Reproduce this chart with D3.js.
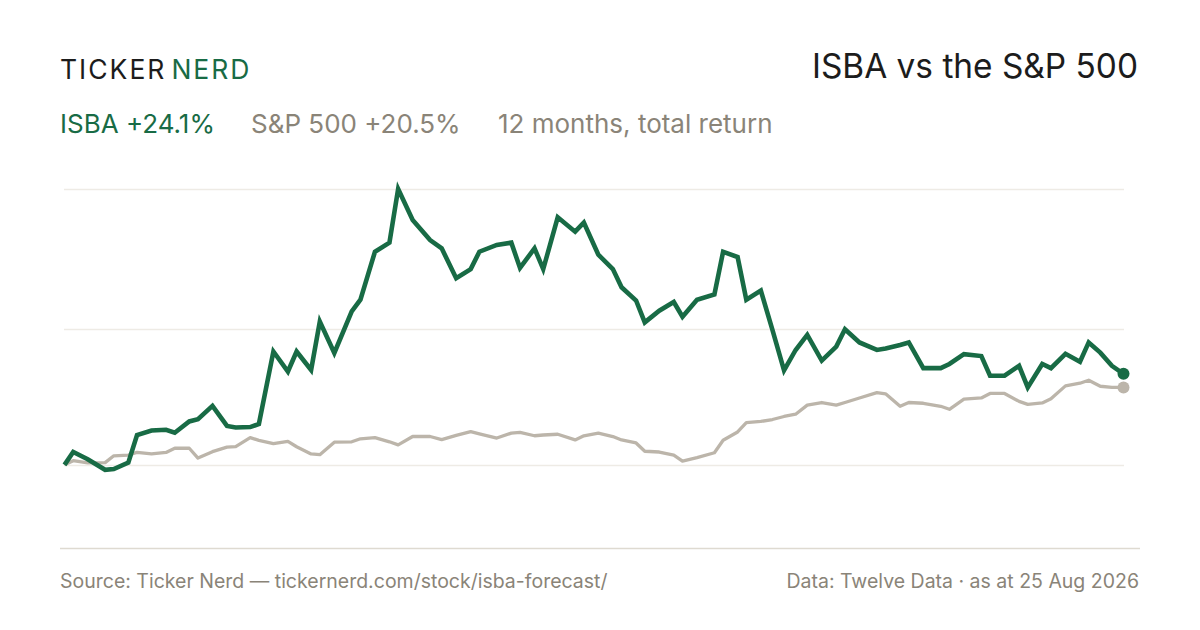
<!DOCTYPE html>
<html>
<head>
<meta charset="utf-8">
<script src="https://cdn.jsdelivr.net/npm/d3@7"></script>
<style>
  html, body { margin: 0; padding: 0; background: #ffffff; }
  svg { display: block; font-family: Inter, "Noto Sans", sans-serif; }
</style>
</head>
<body>
<svg id="chart" width="1200" height="630"></svg>
<script>
// ---- Data ----
// Day offsets from the start of the 12-month window (25 Aug 2025 -> 25 Aug 2026)
const days = [0,3,8,14,17,22,25,30,35,38,43,46,51,56,59,64,67,72,77,80,85,88,93,99,102,107,112,115,120,126,130,135,140,143,149,154,157,162,165,170,176,179,184,189,192,197,200,205,210,213,218,224,227,232,235,240,244,248,252,256,261,266,269,274,280,283,288,291,296,302,305,310,316,319,324,329,332,337,340,345,350,353,357,361,365];
// ISBA cumulative total return, %
const isba = [0,3.4,1.5,-1.3,-1.1,0.6,7.9,9.1,9.3,8.5,11.5,12.1,15.6,10.3,9.9,10.0,10.8,30.0,24.7,30.0,25.1,37.9,29.6,40.6,43.7,56.4,58.8,73.0,64.8,59.5,57.3,49.4,51.8,56.4,58.2,58.8,52.1,57.3,51.8,65.5,61.7,64.1,55.6,51.8,47.0,43.5,37.7,40.8,43.1,39.2,43.7,45.1,56.4,55.0,43.7,46.1,35.7,25.0,30.4,34.4,27.6,31.3,35.9,32.4,30.4,30.8,31.7,32.4,25.6,25.6,26.7,29.3,28.8,23.6,23.6,26.2,20.5,26.7,25.6,29.4,27.3,32.4,29.7,26.2,24.1];
// S&P 500 cumulative total return, %
const spx = [0,1.1,0.5,0.6,2.4,2.6,3.3,2.9,3.3,4.4,4.4,1.8,3.5,4.7,4.8,7.2,6.5,5.6,6.2,4.8,2.9,2.7,6.0,6.1,6.9,7.2,6.1,5.3,7.5,7.5,6.7,7.8,8.8,8.2,7.1,8.4,8.6,7.7,7.9,8.1,6.6,7.7,8.4,7.5,6.6,5.8,3.6,3.4,2.6,1.0,1.9,3.2,6.5,8.7,11.2,11.5,12.0,12.8,13.4,15.8,16.5,15.8,16.5,17.7,19.1,18.8,15.5,16.5,16.3,15.5,14.7,17.4,17.7,18.9,18.9,16.8,16.0,16.4,17.5,20.9,21.6,22.4,20.8,20.5,20.5];
// Horizontal guide values, %
const gridValues = [0, 36, 73];

const brand = ["TICKER", "NERD"];
const title = "ISBA vs the S&P 500";
const legendItems = ["ISBA +24.1%", "S&P 500 +20.5%", "12 months, total return"];
const sourceText = "Source: Ticker Nerd \u2014 tickernerd.com/stock/isba-forecast/";
const dataText = "Data: Twelve Data \u00b7 as at 25 Aug 2026";

// ---- Styles ----
const GREEN = "#186b45";
const GREY_LINE = "#bcb5aa";
const GREY_TEXT = "#8a8478";
const DARK = "#1c1c1c";

const svg = d3.select("#chart");

const x = d3.scaleLinear().domain([0, 365]).range([64.5, 1123.5]);
const y = d3.scaleLinear().domain([-22, 73]).range([548, 189]);

// gridlines
svg.append("g").selectAll("line").data(gridValues).join("line")
  .attr("x1", 64).attr("x2", 1124)
  .attr("y1", d => Math.round(y(d)) + 0.5).attr("y2", d => Math.round(y(d)) + 0.5)
  .attr("stroke", "#eeebe5").attr("stroke-width", 1.5);

// footer rule
svg.append("line").attr("x1", 60).attr("x2", 1140).attr("y1", 548.5).attr("y2", 548.5)
  .attr("stroke", "#dedad1").attr("stroke-width", 1.5);

const line = d3.line().x((d, i) => x(days[i])).y(d => y(d));

svg.append("path").datum(spx).attr("d", line)
  .attr("fill", "none").attr("stroke", GREY_LINE).attr("stroke-width", 3.3)
  .attr("stroke-linejoin", "round");
svg.append("path").datum(isba).attr("d", line)
  .attr("fill", "none").attr("stroke", GREEN).attr("stroke-width", 4.6)
  .attr("stroke-linejoin", "miter");

const last = days.length - 1;
svg.append("circle").attr("cx", x(days[last])).attr("cy", y(spx[last])).attr("r", 6).attr("fill", GREY_LINE);
svg.append("circle").attr("cx", x(days[last])).attr("cy", y(isba[last])).attr("r", 6).attr("fill", GREEN);

// header
const logo = svg.append("text").attr("x", 60).attr("y", 79)
  .attr("font-size", 26.5).attr("letter-spacing", 2);
logo.append("tspan").attr("fill", DARK).text(brand[0]);
logo.append("tspan").attr("fill", GREEN).attr("dx", 5).text(brand[1]);

svg.append("text").attr("x", 1138).attr("y", 78).attr("text-anchor", "end")
  .attr("font-size", 33.4).attr("fill", DARK).text(title);

const legendX = [60, 251, 498];
const legendColors = [GREEN, GREY_TEXT, GREY_TEXT];
svg.append("g").selectAll("text").data(legendItems).join("text")
  .attr("x", (d, i) => legendX[i]).attr("y", 133)
  .attr("font-size", 26).attr("fill", (d, i) => legendColors[i]).text(d => d);

// footer
svg.append("text").attr("x", 60).attr("y", 588).attr("font-size", 19.5)
  .attr("fill", GREY_TEXT).text(sourceText);
svg.append("text").attr("x", 1139).attr("y", 588).attr("text-anchor", "end")
  .attr("font-size", 19.5).attr("fill", GREY_TEXT).text(dataText);
</script>
</body>
</html>
